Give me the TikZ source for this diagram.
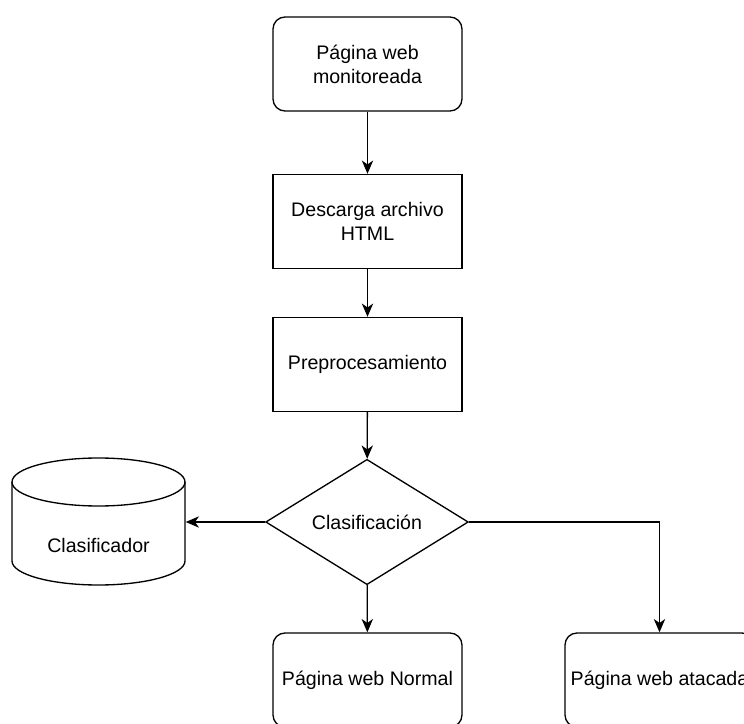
\documentclass[tikz,border=0pt]{standalone}
\usepackage{fontspec}
\setmainfont{Liberation Sans}
\usetikzlibrary{shapes.geometric,arrows.meta}

\tikzset{every picture/.style={line width=1pt}}
\tikzset{
  txt/.style={font=\fontsize{14.7}{18}\selectfont, align=center, inner sep=0.75pt},
  box/.style={txt, draw, minimum width=141.75pt, minimum height=70.5pt},
  roundbox/.style={box, rounded corners=9pt},
  decision/.style={txt, draw, diamond, aspect=1.62, minimum width=152pt, minimum height=94pt, inner sep=0pt},
  dbbox/.style={minimum width=129.75pt, minimum height=95.25pt, inner sep=0pt},
  flow/.style={-{Stealth[length=10pt,width=8.5pt,inset=3pt]}}
}

\begin{document}
\begin{tikzpicture}[x=0.75pt,y=0.75pt,yscale=-1,xscale=1]
		%set diagram left start at 0, and has height of 724
		\useasboundingbox (0,0) rectangle (744,724);

		%Shape: Rounded Rect [id:web]
		\node[roundbox] (web) at (367.5,64) {Página web\\monitoreada};
		%Shape: Rectangle [id:html]
		\node[box] (html) at (367.5,221.5) {Descarga archivo\\HTML};
		%Shape: Rectangle [id:prep]
		\node[box] (prep) at (367.5,364.5) {Preprocesamiento};
		%Shape: Diamond [id:clas]
		\node[decision] (clas) at (367,522) {Clasificación};
		%Shape: Rounded Rect [id:normal]
		\node[roundbox] (normal) at (367.5,680) {Página web Normal};
		%Shape: Rounded Rect [id:atac]
		\node[roundbox] (atac) at (659.5,680) {Página web atacada};

		%Shape: Can [id:db]
		\node[dbbox] (db) at (98.5,522) {};
		\draw (12,482) .. controls (12,468.75) and (50.73,458) .. (98.5,458) .. controls (146.27,458) and (185,468.75) .. (185,482) .. controls (185,495.25) and (146.27,506) .. (98.5,506) .. controls (50.73,506) and (12,495.25) .. (12,482) -- cycle ;
		\draw (12,482) -- (12,561) .. controls (12,574.25) and (50.73,585) .. (98.5,585) .. controls (146.27,585) and (185,574.25) .. (185,561) -- (185,482) ;
		% Text Node
		\node[txt] (dbtext) at (98.5,545) {Clasificador};

		%Straight Lines
		\draw[flow] (web) -- (html);
		\draw[flow] (html) -- (prep);
		\draw[flow] (prep) -- (clas);
		\draw[flow] (clas) -- (normal);
		\draw[flow] (clas.west) -- (db.east);
		\draw[flow] (clas.east) -| (atac.north);

\end{tikzpicture}
\end{document}
